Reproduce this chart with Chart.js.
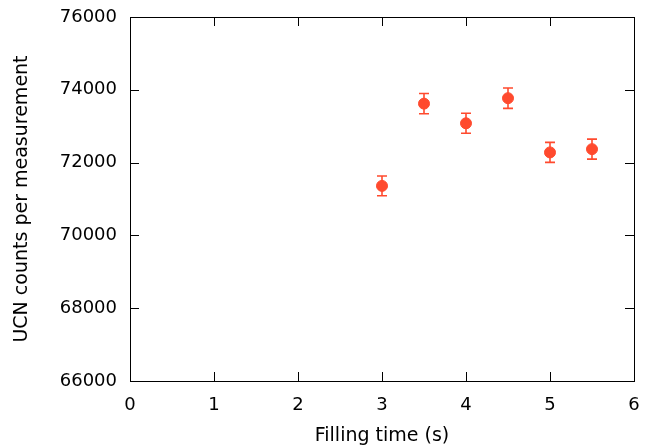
<!DOCTYPE html>
<html>
<head>
<meta charset="utf-8">
<script src="https://cdn.jsdelivr.net/npm/chart.js@4/dist/chart.umd.min.js"></script>
<style>
  html, body { margin: 0; padding: 0; background: #fff; }
  #wrap { width: 654px; height: 447px; }
</style>
</head>
<body>
<div id="wrap"><canvas id="ucnChart" width="654" height="447"></canvas></div>
<script>
// filling time (s) vs UCN counts per measurement
const fillTimes = [3, 3.5, 4, 4.5, 5, 5.5];
const ucnCounts = [71360, 73620, 73080, 73770, 72280, 72370];
const ucnErrors = [270, 280, 275, 280, 275, 275];
const xTicks = [0, 1, 2, 3, 4, 5, 6];
const yTicks = [66000, 68000, 70000, 72000, 74000, 76000];

const markColor = '#ff4a2e';
const tickFont = { family: 'DejaVu Sans', size: 18 };
const titleFont = { family: 'DejaVu Sans', size: 19 };

// gnuplot-ish frame with inward ticks on all four sides
const framePlugin = {
    id: 'frame',
    afterDraw(chart) {
        const { ctx, chartArea: a, scales } = chart;
        ctx.save();
        ctx.strokeStyle = '#000';
        ctx.lineWidth = 1;
        ctx.strokeRect(a.left + 0.5, a.top + 0.5, a.right - a.left, a.bottom - a.top);
        ctx.beginPath();
        const len = 9;
        xTicks.forEach(v => {
            const px = Math.round(scales.x.getPixelForValue(v)) + 0.5;
            ctx.moveTo(px, a.bottom); ctx.lineTo(px, a.bottom - len);
            ctx.moveTo(px, a.top); ctx.lineTo(px, a.top + len);
        });
        yTicks.forEach(v => {
            const py = Math.round(scales.y.getPixelForValue(v)) + 0.5;
            ctx.moveTo(a.left, py); ctx.lineTo(a.left + len, py);
            ctx.moveTo(a.right, py); ctx.lineTo(a.right - len, py);
        });
        ctx.stroke();
        ctx.restore();
    }
};

// error bars drawn through the scales
const errorBarPlugin = {
    id: 'errorBars',
    afterDatasetsDraw(chart) {
        const { ctx, scales } = chart;
        ctx.save();
        ctx.strokeStyle = markColor;
        ctx.lineWidth = 1.6;
        ctx.beginPath();
        fillTimes.forEach((t, i) => {
            const px = scales.x.getPixelForValue(t);
            const hi = scales.y.getPixelForValue(ucnCounts[i] + ucnErrors[i]);
            const lo = scales.y.getPixelForValue(ucnCounts[i] - ucnErrors[i]);
            ctx.moveTo(px, hi); ctx.lineTo(px, lo);
            ctx.moveTo(px - 5, hi); ctx.lineTo(px + 5, hi);
            ctx.moveTo(px - 5, lo); ctx.lineTo(px + 5, lo);
        });
        ctx.stroke();
        ctx.restore();
    }
};

const ctx = document.getElementById('ucnChart').getContext('2d');
const chart = new Chart(ctx, {
    type: 'scatter',
    data: {
        datasets: [{
            data: fillTimes.map((t, i) => ({ x: t, y: ucnCounts[i] })),
            backgroundColor: markColor,
            borderColor: markColor,
            pointRadius: 5.5,
            pointHoverRadius: 5.5
        }]
    },
    options: {
        responsive: false,
        animation: false,
        layout: { padding: { left: 0, right: 20, top: 17, bottom: 0 } },
        plugins: {
            legend: { display: false },
            tooltip: { enabled: false }
        },
        scales: {
            x: {
                type: 'linear',
                min: 0,
                max: 6,
                afterFit: s => { s.height = 66; s.paddingLeft = 0; s.paddingRight = 0; },
                afterBuildTicks: s => { s.ticks = xTicks.map(v => ({ value: v })); },
                grid: { display: false, drawTicks: false },
                border: { display: false },
                ticks: { color: '#000', padding: 14, font: tickFont },
                title: {
                    display: true,
                    text: 'Filling time (s)',
                    color: '#000',
                    padding: { top: 5, bottom: 0 },
                    font: titleFont
                }
            },
            y: {
                type: 'linear',
                min: 66000,
                max: 76000,
                afterFit: s => { s.width = 130; s.paddingTop = 0; s.paddingBottom = 0; },
                afterBuildTicks: s => { s.ticks = yTicks.map(v => ({ value: v })); },
                grid: { display: false, drawTicks: false },
                border: { display: false },
                ticks: {
                    color: '#000',
                    padding: 13,
                    font: tickFont,
                    callback: v => String(v)
                },
                title: {
                    display: true,
                    text: 'UCN counts per measurement',
                    color: '#000',
                    padding: { top: 11, bottom: 0 },
                    font: titleFont
                }
            }
        }
    },
    plugins: [framePlugin, errorBarPlugin]
});
</script>
</body>
</html>
